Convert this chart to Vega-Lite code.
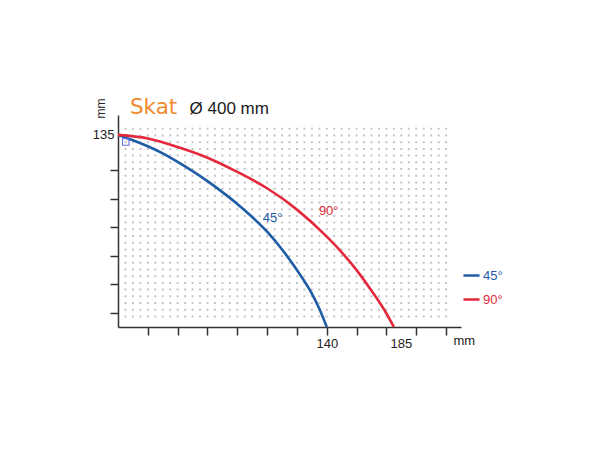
{
  "$schema": "https://vega.github.io/schema/vega-lite/v6.json",
  "width": 343,
  "height": 212,
  "autosize": "none",
  "padding": {"left": 118, "top": 115, "right": 139, "bottom": 123},
  "background": "white",
  "config": {"view": {"stroke": null}, "font": "Liberation Sans"},
  "datasets": {
    "curves": [
      {"angle": "45°", "x": 0, "y": 135},
      {"angle": "45°", "x": 10, "y": 131.3},
      {"angle": "45°", "x": 20, "y": 127},
      {"angle": "45°", "x": 30, "y": 122},
      {"angle": "45°", "x": 40, "y": 116},
      {"angle": "45°", "x": 50, "y": 109.5},
      {"angle": "45°", "x": 60, "y": 102.5},
      {"angle": "45°", "x": 70, "y": 94.8},
      {"angle": "45°", "x": 80, "y": 86.5},
      {"angle": "45°", "x": 90, "y": 77.3},
      {"angle": "45°", "x": 100, "y": 67},
      {"angle": "45°", "x": 110, "y": 54.5},
      {"angle": "45°", "x": 120, "y": 40},
      {"angle": "45°", "x": 130, "y": 23.5},
      {"angle": "45°", "x": 135, "y": 12.8},
      {"angle": "45°", "x": 140, "y": 0},
      {"angle": "90°", "x": 0, "y": 135},
      {"angle": "90°", "x": 20, "y": 132.5},
      {"angle": "90°", "x": 40, "y": 126.5},
      {"angle": "90°", "x": 60, "y": 119},
      {"angle": "90°", "x": 80, "y": 109},
      {"angle": "90°", "x": 100, "y": 97.5},
      {"angle": "90°", "x": 120, "y": 82.5},
      {"angle": "90°", "x": 140, "y": 63.5},
      {"angle": "90°", "x": 150, "y": 52.5},
      {"angle": "90°", "x": 160, "y": 40},
      {"angle": "90°", "x": 170, "y": 25.5},
      {"angle": "90°", "x": 180, "y": 9.5},
      {"angle": "90°", "x": 185, "y": 0}
    ],
    "grid": [
      {"x": 5}, {"x": 10}, {"x": 15}, {"x": 20}, {"x": 25}, {"x": 30}, {"x": 35}, {"x": 40},
      {"x": 45}, {"x": 50}, {"x": 55}, {"x": 60}, {"x": 65}, {"x": 70}, {"x": 75}, {"x": 80},
      {"x": 85}, {"x": 90}, {"x": 95}, {"x": 100}, {"x": 105}, {"x": 110}, {"x": 115}, {"x": 120},
      {"x": 125}, {"x": 130}, {"x": 135}, {"x": 140}, {"x": 145}, {"x": 150}, {"x": 155}, {"x": 160},
      {"x": 165}, {"x": 170}, {"x": 175}, {"x": 180}, {"x": 185}, {"x": 190}, {"x": 195}, {"x": 200},
      {"x": 205}, {"x": 210}, {"x": 215}, {"x": 220}
    ],
    "labels": [
      {"angle": "45°", "x": 103.7, "y": 76.7},
      {"angle": "90°", "x": 141.3, "y": 81.6}
    ]
  },
  "layer": [
    {
      "data": {"name": "grid"},
      "mark": {"type": "rule", "strokeDash": [2, 4.7], "strokeWidth": 2, "color": "#c4c4c4", "strokeCap": "butt"},
      "encoding": {
        "x": {
          "field": "x",
          "type": "quantitative",
          "scale": {"domain": [0, 230], "nice": false, "zero": false},
          "axis": {
            "values": [20, 40, 60, 80, 100, 120, 140, 160, 180, 185, 200, 220],
            "tickCount": 30,
            "labelExpr": "datum.value == 140 || datum.value == 185 ? datum.label : ''",
            "labelFontSize": 13,
            "labelColor": "#222",
            "labelPadding": 2,
            "labelOffset": {"condition": {"test": "datum.value == 185", "value": 7}, "value": 0},
            "labelFlush": false,
            "labelOverlap": false,
            "tickSize": 8,
            "tickWidth": 1.5,
            "tickColor": "#333",
            "tickOpacity": {"condition": {"test": "datum.value == 185", "value": 0}, "value": 1},
            "domainColor": "#333",
            "domainWidth": 1.5,
            "grid": false,
            "title": "mm",
            "titleX": 335,
            "titleY": 13,
            "titleAlign": "left",
            "titleBaseline": "middle",
            "titleFontWeight": "normal",
            "titleFontSize": 13,
            "titleColor": "#222"
          }
        },
        "y": {
          "datum": 140,
          "type": "quantitative",
          "scale": {"domain": [0, 149], "nice": false},
          "axis": {
            "values": [10, 30, 50, 70, 90, 110, 135],
            "tickCount": 30,
            "labelExpr": "datum.value == 135 ? datum.label : ''",
            "labelFontSize": 13,
            "labelColor": "#222",
            "labelPadding": {"condition": {"test": "datum.value == 135", "value": -4}, "value": 2},
            "labelFlush": false,
            "labelOverlap": false,
            "tickSize": 8,
            "tickWidth": 1.5,
            "tickColor": "#333",
            "tickOpacity": {"condition": {"test": "datum.value == 135", "value": 0}, "value": 1},
            "domainColor": "#333",
            "domainWidth": 1.5,
            "grid": false,
            "title": "mm",
            "titleAngle": 270,
            "titleX": -18,
            "titleY": 3,
            "titleAlign": "left",
            "titleBaseline": "middle",
            "titleFontWeight": "normal",
            "titleFontSize": 12,
            "titleColor": "#222"
          }
        },
        "y2": {"datum": 5.5}
      }
    },
    {
      "data": {"name": "curves"},
      "mark": {"type": "line", "strokeWidth": 2.6, "interpolate": "monotone"},
      "encoding": {
        "x": {"field": "x", "type": "quantitative"},
        "y": {"field": "y", "type": "quantitative"},
        "color": {
          "field": "angle",
          "type": "nominal",
          "scale": {"domain": ["45°", "90°"], "range": ["#1f5ca6", "#e3293b"]},
          "legend": {
            "title": null,
            "orient": "none",
            "legendX": 344,
            "legendY": 151,
            "symbolType": "stroke",
            "symbolSize": 260,
            "symbolStrokeWidth": 2.5,
            "labelFontSize": 13,
            "labelOffset": 2,
            "rowPadding": 7,
            "encode": {
              "labels": {"update": {"fill": {"scale": "color", "field": "value"}}}
            }
          }
        }
      }
    },
    {
      "data": {"name": "labels"},
      "mark": {"type": "text", "fontSize": 13, "align": "center", "baseline": "middle"},
      "encoding": {
        "x": {"field": "x", "type": "quantitative"},
        "y": {"field": "y", "type": "quantitative"},
        "text": {"field": "angle", "type": "nominal"},
        "color": {"field": "angle", "type": "nominal"}
      }
    },
    {
      "data": {"values": [{}]},
      "mark": {"type": "point", "shape": "square", "filled": false, "size": 42, "strokeWidth": 1.1, "color": "#5f74e6", "opacity": 1},
      "encoding": {
        "x": {"datum": 5.2, "type": "quantitative"},
        "y": {"datum": 130, "type": "quantitative"}
      }
    },
    {
      "data": {"values": [{}]},
      "mark": {"type": "text", "text": "Skat", "fontSize": 21.5, "font": "DejaVu Sans", "fontWeight": "normal", "color": "#ef8a2e", "align": "left", "baseline": "alphabetic"},
      "encoding": {
        "x": {"datum": 8, "type": "quantitative"},
        "y": {"datum": 149.5, "type": "quantitative"}
      }
    },
    {
      "data": {"values": [{}]},
      "mark": {"type": "text", "text": "Ø 400 mm", "fontSize": 17, "font": "Liberation Sans", "color": "#1a1a1a", "align": "left", "baseline": "alphabetic"},
      "encoding": {
        "x": {"datum": 48, "type": "quantitative"},
        "y": {"datum": 149.5, "type": "quantitative"}
      }
    }
  ]
}
